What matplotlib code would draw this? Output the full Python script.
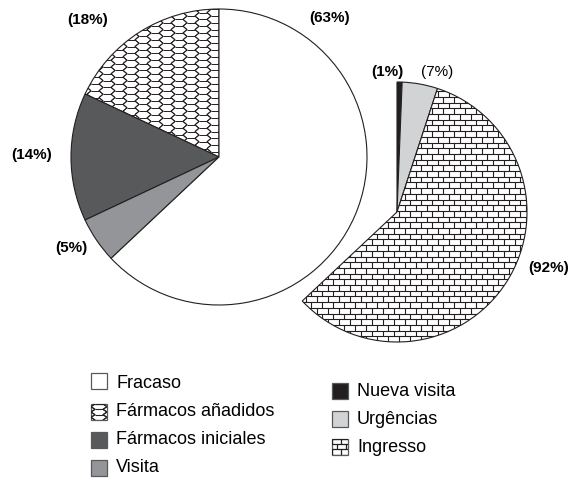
import numpy as np
import matplotlib
matplotlib.use("Agg")
import matplotlib.pyplot as plt
from matplotlib.collections import LineCollection
from matplotlib.patches import Rectangle

plt.rcParams['font.family'] = ['Liberation Sans', 'DejaVu Sans']

# main pie, counterclockwise from 12 o'clock
left_labels = ['Fármacos añadidos', 'Fármacos iniciales', 'Visita', 'Fracaso']
left_values = [18, 14, 5, 63]
# breakdown of "Fracaso", clockwise from 12 o'clock
right_labels = ['Nueva visita', 'Urgências', 'Ingresso']
right_values = [1, 7, 92]

INK = '#231f20'
W, H = 585, 479
Y = lambda y: H - y  # image row -> data y


def hex_segments(x0, x1, y0, y1, P=24, p=3.4, a=8):
    # squashed flat-top honeycomb
    b = P / 2 - a
    segs = []
    for row, y in enumerate(np.arange(y0 - 2 * p, y1 + 2 * p, p)):
        off = (row % 2) * P / 2
        for c in np.arange(x0 - P + off, x1 + P, P):
            segs.append([(c - a / 2, y + p), (c + a / 2, y + p)])
            segs.append([(c + a / 2, y + p), (c + a / 2 + b, y), (c + a / 2, y - p)])
            segs.append([(c - a / 2, y + p), (c - a / 2 - b, y), (c - a / 2, y - p)])
    return segs


def brick_segments(x0, x1, y0, y1, w=11, h=5.7):
    segs = []
    for i, y in enumerate(np.arange(y0, y1 + h, h)):
        segs.append([(x0, y), (x1, y)])
        off = (i % 2) * w / 2
        for x in np.arange(x0 + off, x1 + w, w):
            segs.append([(x, y), (x, y + h)])
    return segs


def texture(ax, patch, segs, lw=0.7, z=2):
    lc = LineCollection(segs, colors=INK, linewidths=lw, zorder=z)
    ax.add_collection(lc)
    lc.set_clip_path(patch)


fig = plt.figure(figsize=(5.85, 4.79), dpi=100)
ax = fig.add_axes([0, 0, 1, 1])

# left pie
lc_center, lc_r = (219, Y(157)), 148
left_colors = ['white', '#58595b', '#939598', 'white']
wl, _ = ax.pie(left_values, colors=left_colors, startangle=90, counterclock=True,
               center=lc_center, radius=lc_r,
               wedgeprops=dict(edgecolor=INK, linewidth=0.8))
texture(ax, wl[0], hex_segments(lc_center[0] - lc_r, lc_center[0] + lc_r,
                                lc_center[1] - lc_r, lc_center[1] + lc_r), lw=0.7)

# right pie: breakdown of Fracaso spread over the same angle
frac = left_values[3]
rc_center, rc_r = (397, Y(212)), 130
right_sizes = [v * frac / 100 for v in right_values] + [100 - frac]
right_colors = [INK, '#d1d3d4', 'white', 'none']
wr, _ = ax.pie(right_sizes, colors=right_colors, startangle=90, counterclock=False,
               center=rc_center, radius=rc_r,
               wedgeprops=dict(edgecolor=INK, linewidth=0.8))
wr[3].set_visible(False)
texture(ax, wr[2], brick_segments(rc_center[0] - rc_r, rc_center[0] + rc_r,
                                  rc_center[1] - rc_r, rc_center[1] + rc_r), lw=0.8)

# percentage labels
left_pos = [(88, 20), (32, 155), (71, 248), (330, 18)]
for v, (x, y) in zip(left_values, left_pos):
    ax.text(x, Y(y), f'({v}%)', ha='center', va='center', fontsize=11, fontweight='bold')
right_pos = [(387, 72), (437, 72), (549, 268)]
right_weight = ['bold', 'normal', 'bold']
for v, (x, y), fw in zip(right_values, right_pos, right_weight):
    ax.text(x, Y(y), f'({v}%)', ha='center', va='center', fontsize=11, fontweight=fw)

# legend
box = 16
left_rows = [384, 412, 440, 468]
left_box_rows = [381, 412, 440, 468]
left_leg = [('Fracaso', 'white', None),
            ('Fármacos añadidos', 'white', 'hex'),
            ('Fármacos iniciales', '#58595b', None),
            ('Visita', '#939598', None)]
right_rows = [391, 419, 447]
right_leg = [('Nueva visita', INK, None),
             ('Urgências', '#d1d3d4', None),
             ('Ingresso', 'white', 'brick')]


def legend_entry(x, yb, yt, label, color, tex):
    r = Rectangle((x, Y(yb) - box / 2), box, box, facecolor=color,
                  edgecolor='#58595b', linewidth=0.9, zorder=3)
    ax.add_patch(r)
    if tex == 'hex':
        texture(ax, r, hex_segments(x - 4, x + box, Y(yb) - box / 2, Y(yb) + box / 2,
                                    P=24, p=box / 6, a=8), lw=0.8, z=4)
    elif tex == 'brick':
        texture(ax, r, brick_segments(x, x + box, Y(yb) - box / 2 + 0.5, Y(yb) + box / 2,
                                      w=9, h=box / 3), lw=0.9, z=4)
    ax.text(x + box + 9, Y(yt), label, ha='left', va='center', fontsize=13)


for (label, color, tex), yb, yt in zip(left_leg, left_box_rows, left_rows):
    legend_entry(91, yb, yt, label, color, tex)
for (label, color, tex), yt in zip(right_leg, right_rows):
    legend_entry(332, yt, yt, label, color, tex)

ax.set_xlim(0, W)
ax.set_ylim(0, H)
ax.set_aspect('auto')
ax.axis('off')
fig.savefig('out.png', dpi=100)
